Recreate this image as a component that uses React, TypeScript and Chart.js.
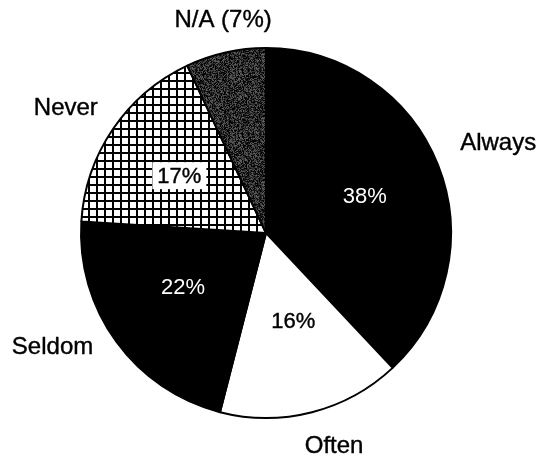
import React, { useEffect, useRef } from "react";
import { Chart, registerables } from "chart.js";

Chart.register(...registerables);

// Survey answers, share of respondents in percent (clockwise from 12 o'clock)
const categories = ["Always", "Often", "Seldom", "Never", "N/A"];
const shares = [38, 16, 22, 17, 7];
const showInside = [true, true, true, true, false];

// Label placement relative to each slice: distance as a fraction of the radius,
// and a small turn (degrees, clockwise) away from the slice's middle angle.
const outerDist = [1.346, 1.21, 1.308, 1.276, 1.173];
const outerTurn = [0.4, -3.3, 7.9, -2.2, 1.2];
const innerDist = [0.568, 0.503, 0.538, 0.557, 0];
const innerTurn = [1.6, -2.6, 2.5, -1.4, 0];

const OUTER_FONT = "24px 'Liberation Sans', Arial, Helvetica, sans-serif";
const INNER_FONT = "22px 'Liberation Sans', Arial, Helvetica, sans-serif";

function gridPattern(): CanvasPattern | string {
  const c = document.createElement("canvas");
  c.width = 8;
  c.height = 8;
  const g = c.getContext("2d");
  if (!g) return "#fff";
  g.fillStyle = "#fff";
  g.fillRect(0, 0, 8, 8);
  g.fillStyle = "#000";
  g.fillRect(0, 0, 8, 2);
  g.fillRect(0, 0, 2, 8);
  return g.createPattern(c, "repeat") || "#fff";
}

// grainy halftone-like grey made from a fixed integer hash
function stipplePattern(): CanvasPattern | string {
  const n = 64;
  const c = document.createElement("canvas");
  c.width = n;
  c.height = n;
  const g = c.getContext("2d");
  if (!g) return "#777";
  const img = g.createImageData(n, n);
  for (let i = 0; i < n * n; i++) {
    let h = Math.imul(i + 17, 2654435761) >>> 0;
    h ^= h >>> 15;
    h = Math.imul(h, 0x85ebca6b) >>> 0;
    h ^= h >>> 13;
    h = Math.imul(h, 0xc2b2ae35) >>> 0;
    h ^= h >>> 16;
    const u = h / 4294967296;
    const v = u < 0.5 ? Math.round(40 + u * 120) : Math.round(170 + (u - 0.5) * 160);
    img.data[i * 4] = v;
    img.data[i * 4 + 1] = v;
    img.data[i * 4 + 2] = v;
    img.data[i * 4 + 3] = 255;
  }
  g.putImageData(img, 0, 0);
  return g.createPattern(c, "repeat") || "#777";
}

function inkText(ctx: CanvasRenderingContext2D, t: string, x: number, y: number, color: string, stroke: number) {
  ctx.fillStyle = color;
  ctx.fillText(t, x, y);
  if (stroke > 0) {
    ctx.strokeStyle = color;
    ctx.lineWidth = stroke;
    ctx.lineJoin = "round";
    ctx.strokeText(t, x, y);
  }
}

const sliceLabels = {
  id: "sliceLabels",
  afterDatasetsDraw(chart: any) {
    const ctx: CanvasRenderingContext2D = chart.ctx;
    const arcs = chart.getDatasetMeta(0).data;
    const values: number[] = chart.data.datasets[0].data;
    const labels: string[] = chart.data.labels;
    const insideColors: string[] = ["#fff", "#000", "#fff", "#000", "#000"];
    const insideBox: boolean[] = [false, false, false, true, false];
    ctx.save();
    ctx.textAlign = "center";
    ctx.textBaseline = "middle";
    arcs.forEach((arc: any, i: number) => {
      const p = arc.getProps(["x", "y", "startAngle", "endAngle", "outerRadius"], true);
      const mid = (p.startAngle + p.endAngle) / 2;

      // outer category label
      const a1 = mid + (outerTurn[i] * Math.PI) / 180;
      const d1 = p.outerRadius * outerDist[i];
      const ox = p.x + Math.cos(a1) * d1;
      const oy = p.y + Math.sin(a1) * d1;
      ctx.font = OUTER_FONT;
      const outerText = showInside[i] ? labels[i] : `${labels[i]} (${values[i]}%)`;
      inkText(ctx, outerText, ox, oy, "#000", 0.4);

      if (!showInside[i]) return;
      const a2 = mid + (innerTurn[i] * Math.PI) / 180;
      const d2 = p.outerRadius * innerDist[i];
      const ix = p.x + Math.cos(a2) * d2;
      const iy = p.y + Math.sin(a2) * d2;
      const t = `${values[i]}%`;
      ctx.font = INNER_FONT;
      if (insideBox[i]) {
        const w = ctx.measureText(t).width + 10;
        ctx.fillStyle = "#fff";
        ctx.fillRect(ix - w / 2, iy - 15, w, 27);
      }
      const white = insideColors[i] === "#fff";
      inkText(ctx, t, ix, iy, insideColors[i], white ? 0 : 0.4);
    });
    ctx.restore();
  },
};

export default function App() {
  const ref = useRef<HTMLCanvasElement>(null);

  useEffect(() => {
    if (!ref.current) return;
    const fills = ["#000", "#fff", "#000", gridPattern(), stipplePattern()];
    const chart = new Chart(ref.current, {
      type: "pie",
      data: {
        labels: categories,
        datasets: [
          {
            data: shares,
            backgroundColor: fills as any,
            borderColor: "#000",
            borderWidth: 2,
            hoverOffset: 0,
          },
        ],
      },
      options: {
        animation: false,
        responsive: false,
        devicePixelRatio: 1,
        events: [],
        layout: { padding: { top: 47, bottom: 38, left: 80, right: 85 } },
        plugins: {
          legend: { display: false },
          tooltip: { enabled: false },
        },
      },
      plugins: [sliceLabels],
    });
    return () => chart.destroy();
  }, []);

  return (
    <div style={{ position: "absolute", left: 0, top: 0, width: 537, height: 457, background: "#fff" }}>
      <canvas ref={ref} width={537} height={457} />
    </div>
  );
}
